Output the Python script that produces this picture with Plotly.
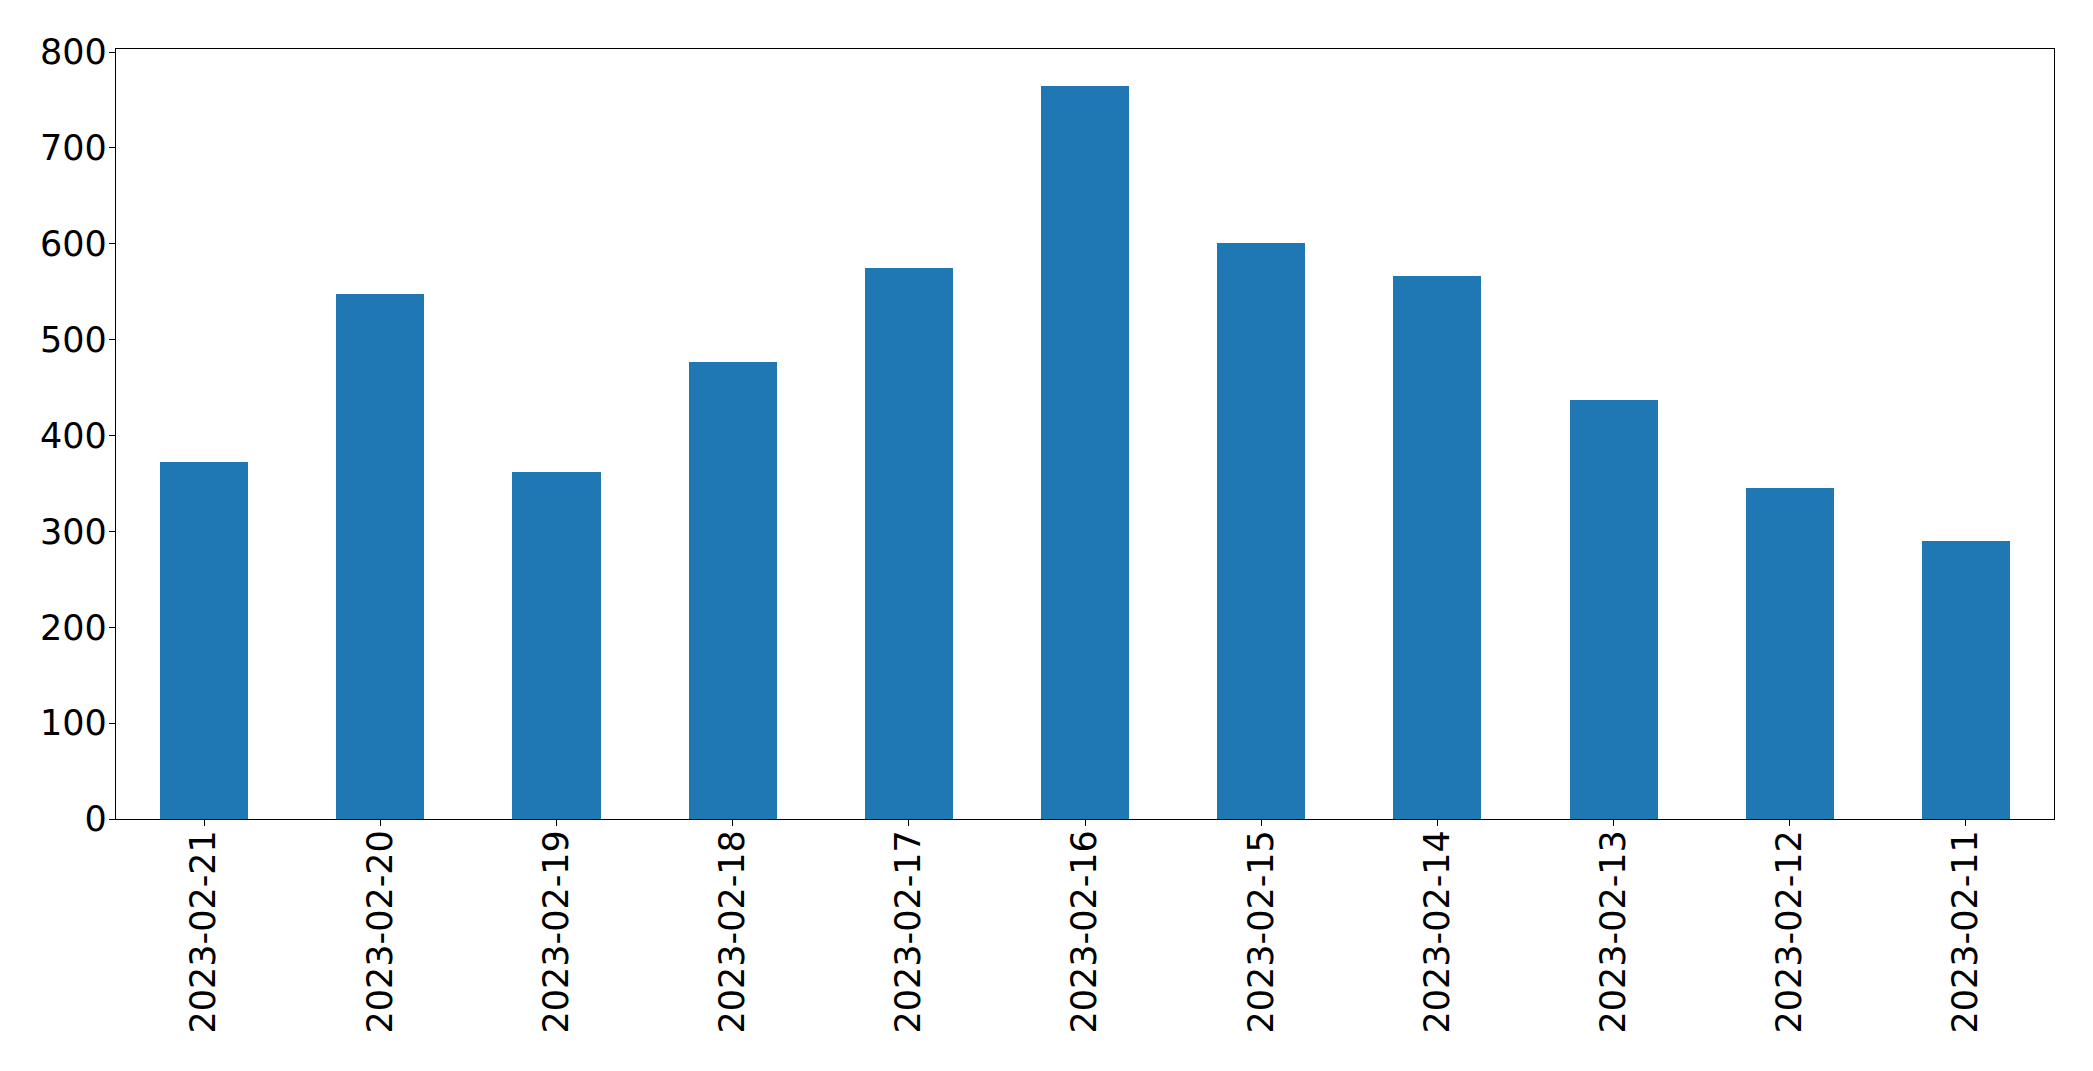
import plotly.graph_objects as go

dates = ["2023-02-21", "2023-02-20", "2023-02-19", "2023-02-18", "2023-02-17",
         "2023-02-16", "2023-02-15", "2023-02-14", "2023-02-13", "2023-02-12", "2023-02-11"]
counts = [372, 548, 362, 477, 575, 765, 601, 566, 437, 345, 290]
y_ticks = [0, 100, 200, 300, 400, 500, 600, 700, 800]

fig = go.Figure()
fig.add_trace(go.Bar(x=dates, y=counts, width=0.5, marker=dict(color="#1f77b4", line=dict(width=0))))

font = dict(family="DejaVu Sans", size=35, color="black")
fig.update_layout(
    width=2093, height=1071,
    margin=dict(l=116, r=39, t=49, b=252),
    plot_bgcolor="white", paper_bgcolor="white",
    showlegend=False,
    font=font,
    bargap=0,
)
fig.update_xaxes(
    type="category", range=[-0.5, len(dates) - 0.5],
    tickangle=-90, ticks="outside", ticklen=6, tickwidth=1.3, tickcolor="black",
    showline=True, linecolor="black", linewidth=1.3, mirror=True,
    showgrid=False, zeroline=False, tickfont=font, ticklabelstandoff=-10,
)
fig.update_yaxes(
    range=[0, max(counts) * 1.05], tickvals=y_ticks,
    ticks="outside", ticklen=6, tickwidth=1.3, tickcolor="black",
    showline=True, linecolor="black", linewidth=1.3, mirror=True,
    showgrid=False, zeroline=False, tickfont=font, ticklabelstandoff=-5,
)
fig.write_html("out.html")
